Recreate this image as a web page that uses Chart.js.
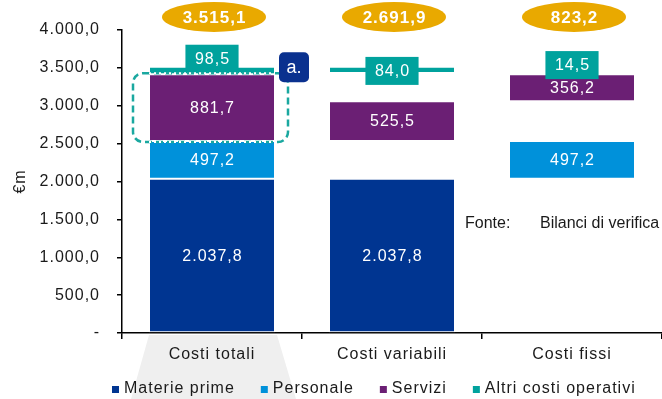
<!DOCTYPE html>
<html>
<head>
<meta charset="utf-8">
<script src="https://cdn.jsdelivr.net/npm/chart.js@4/dist/chart.umd.min.js"></script>
<style>
  html, body { margin: 0; padding: 0; background: #fff; }
  #wrap { width: 662px; height: 399px; position: relative; }
</style>
</head>
<body>
<div id="wrap"><canvas id="c" width="662" height="399"></canvas></div>
<script>
// Categorie (colonne) e voci di costo
const categories = ['Costi totali', 'Costi variabili', 'Costi fissi'];
const seriesNames = ['Materie prime', 'Personale', 'Servizi', 'Altri costi operativi'];
const seriesColors = ['#003591', '#0091DA', '#6B1F74', '#00A29D'];

// Valori per voce (€m): totale, quota variabile, quota fissa
const costiTotali = [2037.8, 497.2, 881.7, 98.5];
const costiVariabili = [2037.8, null, 525.5, 84.0];
const costiFissi = [null, 497.2, 356.2, 14.5];

// Totali di colonna riportati nelle etichette in alto
const totaliColonna = [3515.1, 2691.9, 823.2];

// Asse verticale
const yMin = 0, yMax = 4000, yStep = 500;

const FONT = '"Liberation Sans", Arial, Helvetica, sans-serif';
const TEXT = '#1a1a1a';
const SPACING = '1px';

function fmt(v) {
  const parts = Math.abs(v).toFixed(1).split('.');
  return parts[0].replace(/\B(?=(\d{3})+(?!\d))/g, '.') + ',' + parts[1];
}

// Base di ogni voce nella colonna dei costi totali
const starts = [];
let acc = 0;
costiTotali.forEach(v => { starts.push(acc); acc += v; });

// La quota variabile sta alla base del segmento, tranne per gli altri costi operativi
const variableOnTop = [false, false, false, true];
function range(start, total, part, onTop) {
  if (part == null) return null;
  const end = start + total;
  return onTop ? [end - part, end] : [start, start + part];
}

const columnValues = [costiTotali, costiVariabili, costiFissi];

const datasets = seriesNames.map((name, k) => ({
  label: name,
  backgroundColor: seriesColors[k],
  data: [
    [starts[k], starts[k] + costiTotali[k]],
    range(starts[k], costiTotali[k], costiVariabili[k], variableOnTop[k]),
    range(starts[k], costiTotali[k], costiFissi[k], !variableOnTop[k])
  ]
}));

// Posizione dell'etichetta degli altri costi: sopra il segmento o centrata
const altriLabelAnchor = ['above', 'middle', 'above'];

function roundRect(ctx, x, y, w, h, r) {
  ctx.beginPath();
  ctx.moveTo(x + r, y);
  ctx.lineTo(x + w - r, y);
  ctx.arcTo(x + w, y, x + w, y + r, r);
  ctx.lineTo(x + w, y + h - r);
  ctx.arcTo(x + w, y + h, x + w - r, y + h, r);
  ctx.lineTo(x + r, y + h);
  ctx.arcTo(x, y + h, x, y + h - r, r);
  ctx.lineTo(x, y + r);
  ctx.arcTo(x, y, x + r, y, r);
  ctx.closePath();
}

const spacingPlugin = {
  id: 'spacing',
  beforeUpdate(chart) { chart.ctx.letterSpacing = SPACING; },
  beforeDraw(chart) { chart.ctx.letterSpacing = SPACING; }
};

// Fondo grigio sotto la colonna dei costi totali
const backdropPlugin = {
  id: 'backdrop',
  beforeDraw(chart) {
    const ctx = chart.ctx;
    const el = chart.getDatasetMeta(0).data[0];
    const l = el.x - el.width / 2, r = el.x + el.width / 2 + 2;
    const top = chart.chartArea.bottom + 2, bottom = chart.height;
    ctx.save();
    ctx.fillStyle = '#EFEFEF';
    ctx.beginPath();
    ctx.moveTo(l, top);
    ctx.lineTo(r, top);
    ctx.lineTo(r + 19, bottom);
    ctx.lineTo(l - 18, bottom);
    ctx.closePath();
    ctx.fill();
    ctx.restore();
  }
};

// Etichette dei valori nei segmenti
const valueLabelPlugin = {
  id: 'valueLabels',
  afterDatasetsDraw(chart) {
    const ctx = chart.ctx;
    ctx.save();
    ctx.letterSpacing = SPACING;
    ctx.font = '16px ' + FONT;
    ctx.textAlign = 'center';
    ctx.textBaseline = 'middle';
    chart.data.datasets.forEach((ds, k) => {
      const meta = chart.getDatasetMeta(k);
      meta.data.forEach((el, i) => {
        const v = columnValues[i][k];
        if (v == null || ds.data[i] == null) return;
        const txt = fmt(v);
        if (k === 3) {
          const w = ctx.measureText(txt).width + 18, h = 28;
          const cy = altriLabelAnchor[i] === 'above' ? el.y - 8 : (el.y + el.base) / 2 + 1;
          ctx.fillStyle = seriesColors[3];
          ctx.fillRect(el.x - w / 2, cy - h / 2, w, h);
          ctx.fillStyle = '#fff';
          ctx.fillText(txt, el.x + 0.5, cy + 1);
        } else {
          ctx.fillStyle = '#fff';
          ctx.fillText(txt, el.x + 0.5, (el.y + el.base) / 2 + 1);
        }
      });
    });
    ctx.restore();
  }
};

// Totali, riquadro evidenziato, nota fonte e legenda
const decorPlugin = {
  id: 'decor',
  afterDraw(chart) {
    const ctx = chart.ctx;
    const xs = chart.scales.x;
    ctx.save();

    // ovali con i totali di colonna
    totaliColonna.forEach((t, i) => {
      const cx = xs.getPixelForValue(i) + 2;
      ctx.fillStyle = '#E9A900';
      ctx.beginPath();
      ctx.ellipse(cx, 17, 52, 15, 0, 0, Math.PI * 2);
      ctx.fill();
      ctx.fillStyle = '#fff';
      ctx.letterSpacing = '1px';
      ctx.font = 'bold 17px ' + FONT;
      ctx.textAlign = 'center';
      ctx.textBaseline = 'middle';
      ctx.fillText(fmt(t), cx + 0.5, 18);
    });

    // riquadro tratteggiato attorno ai servizi della colonna totale
    const s = chart.getDatasetMeta(2).data[0];
    const bl = s.x - s.width / 2, br = s.x + s.width / 2;
    const top = s.y - 1, bottom = s.base + 1;
    ctx.letterSpacing = '0px';
    ctx.strokeStyle = '#1AA8A0';
    ctx.lineWidth = 2.5;
    ctx.setLineDash([7, 4]);
    roundRect(ctx, bl - 16, top, (br + 13) - (bl - 16), bottom - top, 10);
    ctx.stroke();
    ctx.strokeStyle = '#fff';
    ctx.lineWidth = 2;
    ctx.setLineDash([2, 3]);
    [top, bottom].forEach(yy => {
      ctx.beginPath();
      ctx.moveTo(bl, yy);
      ctx.lineTo(br, yy);
      ctx.stroke();
    });
    ctx.setLineDash([]);

    // badge "a."
    ctx.fillStyle = '#0A318F';
    roundRect(ctx, br + 4, top - 21, 30, 30, 5);
    ctx.fill();
    ctx.fillStyle = '#fff';
    ctx.font = '18px ' + FONT;
    ctx.textAlign = 'center';
    ctx.textBaseline = 'middle';
    ctx.fillText('a.', br + 19, top - 5);

    // nota sulla fonte
    ctx.fillStyle = TEXT;
    ctx.textAlign = 'left';
    ctx.font = '16px ' + FONT;
    ctx.fillText('Fonte:', 465, 224);
    ctx.fillText('Bilanci di verifica', 540, 224);

    // legenda
    ctx.letterSpacing = SPACING;
    ctx.font = '16px ' + FONT;
    let x = 112;
    const ly = 389;
    chart.data.datasets.forEach(ds => {
      ctx.fillStyle = ds.backgroundColor;
      ctx.fillRect(x, ly - 3, 7, 7);
      x += 12;
      ctx.fillStyle = TEXT;
      ctx.fillText(ds.label, x, ly);
      x += ctx.measureText(ds.label).width + 26;
    });

    ctx.restore();
  }
};

new Chart(document.getElementById('c'), {
  type: 'bar',
  data: { labels: categories, datasets },
  options: {
    responsive: false,
    animation: false,
    devicePixelRatio: 1,
    layout: { padding: { top: 30, left: 0, right: 0, bottom: 0 } },
    datasets: {
      bar: {
        grouped: false,
        barPercentage: 0.7,
        categoryPercentage: 1,
        borderColor: '#fff',
        borderWidth: 1,
        borderSkipped: false
      }
    },
    plugins: {
      legend: { display: false },
      tooltip: { enabled: false }
    },
    scales: {
      x: {
        offset: true,
        grid: { offset: true, drawOnChartArea: false, color: '#000', lineWidth: 1.5, tickLength: 6 },
        border: { color: '#000', width: 1.5 },
        ticks: { color: TEXT, font: { family: FONT, size: 16 }, padding: 6 },
        afterFit(scale) { scale.height = 66; }
      },
      y: {
        min: yMin,
        max: yMax,
        ticks: {
          stepSize: yStep,
          color: TEXT,
          font: { family: FONT, size: 16 },
          padding: 17,
          callback: v => (v === 0 ? '-' : fmt(v))
        },
        grid: { drawOnChartArea: false, color: '#000', lineWidth: 1.5, tickLength: 5 },
        border: { color: '#000', width: 1.5 },
        title: {
          display: true,
          text: '€m',
          color: TEXT,
          font: { family: FONT, size: 16 },
          padding: { top: 11, bottom: 0 }
        },
        afterFit(scale) { scale.width = 122; }
      }
    }
  },
  plugins: [spacingPlugin, backdropPlugin, valueLabelPlugin, decorPlugin]
});
</script>
</body>
</html>
